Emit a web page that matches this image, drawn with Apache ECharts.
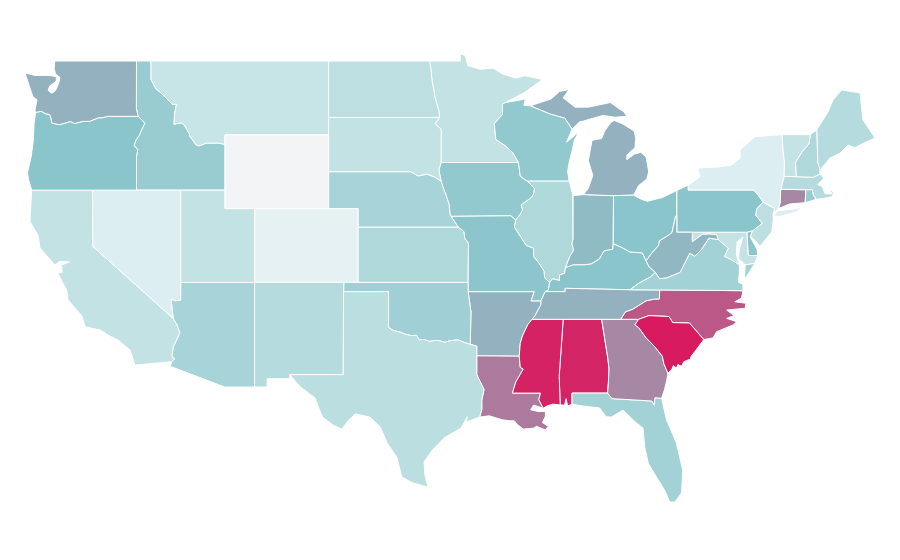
<!DOCTYPE html>
<html>
<head>
<meta charset="utf-8">
<title>US states</title>
<script src="https://cdn.jsdelivr.net/npm/echarts@6/dist/echarts.min.js"></script>
<style>
    html, body {margin: 0; padding: 0; background: #fff;}
    #usMap {width: 900px; height: 560px;}
</style>
</head>
<body>
<div id="usMap"></div>
<script>
// values
const stateNames = ['Alabama','Arizona','Arkansas','California','Colorado','Connecticut','Delaware','Florida','Georgia','Idaho','Illinois','Indiana','Iowa','Kansas','Kentucky','Louisiana','Maine','Maryland','Massachusetts','Michigan','Minnesota','Mississippi','Missouri','Montana','Nebraska','Nevada','New Hampshire','New Jersey','New Mexico','New York','North Carolina','North Dakota','Ohio','Oklahoma','Oregon','Pennsylvania','Rhode Island','South Carolina','South Dakota','Tennessee','Texas','Utah','Vermont','Virginia','Washington','West Virginia','Wisconsin','Wyoming'];
const stateValues = [98.5,63,78,52,14,84,74,65,84,69,60,76.5,72,60,75,86,57,51,57,78,51.5,99,74,50,63,25,60,54,57,25,91,54,75,66,75,75,70,100,52,78,55,52,51,65,78,77,72,0];

const colorStops = ['#f3f4f6', '#dceef1', '#c7e4e6', '#8ac5cb', '#d81b60'];

// state borders, lon/lat, each one shared by the two states on either side
const arcs = {
    n_wa: [[-122.55,49],[-117.03,49]],
    wa_id: [[-117.03,49],[-117.04,46.42],[-116.92,46]],
    wa_or: [[-116.92,46],[-118.98,46],[-119.3,45.93],[-119.6,45.92],[-120.2,45.73],[-120.65,45.73],[-121.2,45.61],[-121.5,45.72],[-122,45.6],[-122.25,45.55],[-122.6,45.61],[-122.76,45.65],[-122.8,45.9],[-122.9,46.1],[-123.2,46.15],[-123.45,46.27],[-123.7,46.24],[-123.85,46.2]],
    wa_coast: [[-123.85,46.2],[-123.89,46.34],[-123.75,46.9],[-124.02,47.05],[-124.23,47.54],[-124.56,48.35],[-124.3,48.3],[-123.9,48.22],[-123.2,48.22],[-122.75,48.2],[-122.45,48.15],[-122.45,47.9],[-122.9,47.65],[-123,47.4],[-122.75,47.25],[-122.5,47.4],[-122.28,47.8],[-122.2,48.1],[-122.5,48.3],[-122.6,48.6],[-122.55,49]],
    or_coast: [[-123.85,46.2],[-123.95,45.6],[-124,44.7],[-124.15,43.8],[-124.4,42.93],[-124.3,42.5],[-124.11,42]],
    or_ca: [[-124.11,42],[-120,42]],
    or_nv: [[-120,42],[-117.03,42]],
    or_id: [[-117.03,42],[-117.03,43.8],[-116.95,44.2],[-117.2,44.42],[-117.05,44.75],[-116.85,44.95],[-116.7,45.25],[-116.47,45.62],[-116.65,45.78],[-116.92,46]],
    n_id: [[-117.03,49],[-116.05,49]],
    id_mt: [[-116.05,49],[-116.05,48],[-115.72,47.5],[-115.35,47.25],[-114.95,46.93],[-114.6,46.65],[-114.33,46.65],[-114.45,46.15],[-114.5,45.57],[-114,45.65],[-113.8,45.52],[-113.45,45.05],[-113.45,44.95],[-113,44.45],[-112.8,44.4],[-112.3,44.55],[-111.5,44.55],[-111.05,44.48]],
    id_wy: [[-111.05,44.48],[-111.05,42]],
    id_ut: [[-111.05,42],[-114.04,42]],
    id_nv: [[-114.04,42],[-117.03,42]],
    n_mt: [[-116.05,49],[-104.05,49]],
    mt_wy: [[-111.05,44.48],[-111.05,45],[-104.05,45]],
    mt_sd: [[-104.05,45],[-104.05,45.94]],
    mt_nd: [[-104.05,45.94],[-104.05,49]],
    ca_coast: [[-124.11,42],[-124.23,40.3],[-123.69,39.57],[-123.55,38.86],[-122.54,37.94],[-122.2,38.15],[-121.55,38.1],[-122.1,37.95],[-122.05,37.55],[-122.34,37.5],[-122,36.95],[-121.75,36.6],[-121.66,36.05],[-120.73,35.2],[-120.5,34.6],[-119.5,34.42],[-118.8,34.08],[-118.28,33.88],[-117.47,33.34],[-117.13,32.52]],
    ca_mex: [[-117.13,32.52],[-114.65,32.7]],
    ca_az: [[-114.65,32.7],[-114.45,32.85],[-114.65,33],[-114.55,33.5],[-114.1,34.26],[-114.3,34.7],[-114.55,35.05]],
    ca_nv: [[-114.55,35.05],[-119.97,38.95],[-120,42]],
    nv_az: [[-114.55,35.05],[-114.7,36.1],[-114.4,36],[-114.05,36.05],[-114.04,37]],
    nv_ut: [[-114.04,37],[-114.04,42]],
    ut_wy: [[-111.05,42],[-111.05,41],[-109.05,41]],
    ut_co: [[-109.05,41],[-109.05,37]],
    ut_az: [[-114.04,37],[-109.05,37]],
    wy_co: [[-109.05,41],[-104.05,41]],
    wy_ne: [[-104.05,41],[-104.05,43]],
    wy_sd: [[-104.05,43],[-104.05,45]],
    az_mex: [[-114.65,32.7],[-114.75,32.45],[-111.07,31.33],[-109.05,31.33]],
    az_nm: [[-109.05,37],[-109.05,31.33]],
    nm_mex: [[-109.05,31.33],[-108.2,31.33],[-108.2,31.78],[-106.67,31.78],[-106.67,32]],
    nm_tx: [[-106.67,32],[-103.06,32],[-103.04,36.5]],
    nm_ok: [[-103.04,36.5],[-103,37]],
    nm_co: [[-103,37],[-109.05,37]],
    co_ne: [[-104.05,41],[-102.05,41],[-102.05,40]],
    co_ks: [[-102.05,40],[-102.05,37]],
    co_ok: [[-102.05,37],[-103,37]],
    ne_sd: [[-104.05,43],[-98.5,43],[-98,42.77],[-97.4,42.87],[-96.9,42.72],[-96.45,42.49]],
    ne_ks: [[-102.05,40],[-95.3,40]],
    ne_ia: [[-96.45,42.49],[-96.25,42],[-96.1,41.7],[-95.9,41.2],[-95.85,40.7],[-95.77,40.58]],
    ne_mo: [[-95.77,40.58],[-95.3,40]],
    ks_ok: [[-102.05,37],[-94.62,37]],
    ks_mo: [[-95.3,40],[-95.05,39.85],[-94.9,39.75],[-94.85,39.4],[-94.6,39.12],[-94.62,37]],
    ok_tx: [[-103.04,36.5],[-100,36.5],[-100,34.56],[-99.7,34.4],[-99.2,34.3],[-98.9,34.2],[-98.5,34.12],[-98.1,34.13],[-97.95,33.9],[-97.6,33.9],[-97.2,33.8],[-96.9,33.85],[-96.6,33.85],[-96.2,33.75],[-95.8,33.85],[-95.3,33.88],[-94.9,33.75],[-94.48,33.64]],
    ok_ar: [[-94.48,33.64],[-94.43,35.39],[-94.62,36.5]],
    ok_mo: [[-94.62,36.5],[-94.62,37]],
    tx_ar: [[-94.48,33.64],[-94.04,33.55],[-94.04,33.02]],
    tx_la: [[-94.04,33.02],[-94.04,32],[-93.8,31.6],[-93.55,31.2],[-93.7,30.6],[-93.7,30.1],[-93.85,29.7]],
    tx_coast: [[-93.85,29.7],[-94.75,29.43],[-94.68,29.72],[-95.1,29.1],[-96.2,28.6],[-97.05,27.9],[-97.6,27.27],[-97.55,26.6],[-97.33,25.9]],
    tx_mex: [[-97.33,25.9],[-98.35,26.13],[-99.1,26.45],[-99.45,27.54],[-100.1,28.3],[-100.55,29.16],[-101.25,29.7],[-102.25,29.87],[-102.7,29.54],[-103.15,29.05],[-103.75,29.27],[-104.45,29.7],[-104.75,30.25],[-104.95,30.73],[-105.95,31.33],[-106.67,32]],
    nd_sd: [[-104.05,45.94],[-96.56,45.94]],
    nd_mn: [[-96.56,45.94],[-96.6,46.3],[-96.85,47],[-97.05,47.9],[-97.15,48.6],[-97.23,49]],
    n_nd: [[-104.05,49],[-97.23,49]],
    sd_mn: [[-96.56,45.94],[-96.85,45.6],[-96.45,45.3],[-96.45,43.5]],
    sd_ia: [[-96.45,43.5],[-96.6,43.1],[-96.45,42.49]],
    mn_ia: [[-96.45,43.5],[-91.22,43.5]],
    mn_wi: [[-92.1,46.75],[-92.3,46.66],[-92.3,46.1],[-92.85,45.6],[-92.75,44.75],[-92.1,44.4],[-91.6,44.03],[-91.22,43.5]],
    mn_north: [[-97.23,49],[-95.15,49],[-95.15,49.38],[-94.8,49.3],[-94.65,48.75],[-93.8,48.55],[-92.95,48.62],[-92.3,48.3],[-91.4,48.07],[-90.8,48.2],[-89.6,48],[-90.8,47.3],[-91.5,47],[-92.1,46.75]],
    wi_ia: [[-91.22,43.5],[-91.1,42.75],[-90.64,42.5]],
    wi_il: [[-90.64,42.5],[-87.8,42.5]],
    wi_mi: [[-90.42,46.57],[-89.1,46.13],[-88.1,45.9],[-87.8,45.55],[-87.6,45.3]],
    wi_lake_n: [[-92.1,46.75],[-91.2,46.87],[-90.75,46.95],[-90.85,46.6],[-90.42,46.57]],
    wi_lake_e: [[-87.6,45.3],[-87.97,44.6],[-87.15,45.15],[-87.45,44.7],[-87.55,44.3],[-87.8,43.5],[-87.9,43],[-87.8,42.5]],
    ia_il: [[-90.64,42.5],[-90.15,42.1],[-90.2,41.8],[-90.35,41.6],[-91.05,41.2],[-90.95,40.95],[-91.1,40.7],[-91.42,40.38]],
    ia_mo: [[-95.77,40.58],[-91.73,40.61],[-91.42,40.38]],
    mo_il: [[-91.42,40.38],[-91.5,40],[-91.1,39.5],[-90.7,39],[-90.2,38.85],[-90.2,38.4],[-89.8,38],[-89.5,37.6],[-89.45,37.25],[-89.13,37]],
    mo_ky: [[-89.13,37],[-89.2,36.6],[-89.42,36.5]],
    mo_tn: [[-89.42,36.5],[-89.7,36]],
    mo_ar: [[-94.62,36.5],[-90.15,36.5],[-90.37,36],[-89.7,36]],
    ar_tn: [[-89.7,36],[-89.7,35.8],[-90.1,35.2],[-90.3,35]],
    ar_ms: [[-90.3,35],[-90.6,34.7],[-90.95,34.1],[-91.1,33.7],[-91.17,33]],
    ar_la: [[-94.04,33.02],[-91.17,33]],
    la_ms: [[-91.17,33],[-91.1,32.4],[-90.9,32.3],[-91.4,31.6],[-91.63,31],[-89.73,31],[-89.85,30.65],[-89.55,30.18]],
    la_coast: [[-89.55,30.18],[-90.2,30.35],[-90.4,30.1],[-89.9,30],[-89.4,30],[-89.4,29.75],[-89.6,29.4],[-89.2,29.2],[-89.4,29],[-90,29.2],[-90.2,29.1],[-90.9,29.05],[-91.3,29.3],[-91.5,29.5],[-91.8,29.5],[-92.3,29.55],[-93.2,29.77],[-93.85,29.7]],
    ms_coast: [[-89.55,30.18],[-89.3,30.3],[-88.9,30.4],[-88.4,30.36]],
    ms_al: [[-88.4,30.36],[-88.47,31.9],[-88.2,35]],
    ms_tn: [[-90.3,35],[-88.2,35]],
    al_tn: [[-88.2,35],[-85.6,35]],
    al_coast: [[-88.4,30.36],[-88.1,30.35],[-88,30.7],[-87.9,30.3],[-87.6,30.4]],
    al_fl: [[-87.6,30.4],[-87.6,31],[-85.2,31]],
    al_ga: [[-85.6,35],[-85.18,32.87],[-85.1,32.3],[-85.15,31.5],[-85.2,31]],
    ga_fl: [[-85.2,31],[-84.9,30.7],[-82.2,30.57],[-82.05,30.35],[-82,30.75],[-81.55,30.72]],
    fl_coast: [[-87.6,30.4],[-86.9,30.3],[-85.75,30.2],[-85.3,29.72],[-84.95,29.7],[-84.15,30.08],[-83.35,29.45],[-82.8,29.1],[-82.7,28.1],[-82.45,27.2],[-81.9,26.45],[-81.35,25.75],[-81,25.1],[-80.65,25.1],[-80.2,25.6],[-80.12,26.8],[-80.55,28.3],[-81.22,29.55],[-81.55,30.72]],
    ga_coast: [[-81.55,30.72],[-81.35,31.2],[-81.2,31.7],[-81.12,32.07]],
    ga_sc: [[-81.12,32.07],[-81.4,32.6],[-81.5,33],[-82,33.5],[-82.6,34],[-83.1,34.55],[-83.35,34.7],[-83.1,35]],
    ga_nc: [[-83.1,35],[-84.32,35]],
    ga_tn: [[-84.32,35],[-85.6,35]],
    sc_nc: [[-83.1,35],[-82.4,35.2],[-81.05,35.15],[-80.8,34.82],[-79.67,34.8],[-78.7,33.9]],
    sc_coast: [[-81.12,32.07],[-80.85,32.3],[-80.75,32.5],[-80.55,32.35],[-80.45,32.55],[-80.2,32.45],[-80.05,32.7],[-79.6,32.85],[-79.55,33],[-79.3,33.25],[-78.7,33.9]],
    nc_coast: [[-78.7,33.9],[-78.08,33.99],[-77.83,34.33],[-76.7,34.7],[-76.47,34.87],[-77.15,35.05],[-76.65,35.2],[-77.15,35.5],[-75.9,35.6],[-75.85,35.87],[-76.6,35.95],[-76.15,36.15],[-76.05,36.55]],
    nc_va: [[-76.05,36.55],[-81.68,36.59]],
    nc_tn: [[-81.68,36.59],[-81.7,36.1],[-82,36.1],[-82.6,36],[-83.1,35.75],[-83.5,35.55],[-84,35.4],[-84.32,35]],
    tn_va: [[-81.68,36.59],[-83.68,36.6]],
    ky_tn: [[-89.42,36.5],[-88.07,36.5],[-88.07,36.68],[-83.68,36.6]],
    ky_va: [[-83.68,36.6],[-83.1,36.95],[-82.3,37.3],[-81.97,37.54]],
    ky_wv: [[-81.97,37.54],[-82.4,37.85],[-82.6,38.17]],
    ky_oh: [[-82.6,38.17],[-82.85,38.6],[-83.7,38.65],[-84.25,38.9],[-84.82,39.1]],
    ky_in: [[-84.82,39.1],[-84.85,38.8],[-85.45,38.7],[-85.75,38.27],[-86.3,38],[-86.8,37.95],[-87.5,37.95],[-88.05,37.8]],
    ky_il: [[-88.05,37.8],[-88.1,37.5],[-88.45,37.4],[-88.45,37.1],[-88.9,37.2],[-89.13,37]],
    il_in: [[-87.53,41.7],[-87.53,39.35],[-87.6,39.1],[-87.5,38.75],[-87.75,38.4],[-88.05,37.8]],
    il_lake: [[-87.8,42.5],[-87.55,41.75],[-87.53,41.7]],
    in_oh: [[-84.82,39.1],[-84.8,41.7]],
    in_lake: [[-87.53,41.7],[-86.82,41.76]],
    in_mi: [[-86.82,41.76],[-84.8,41.7]],
    oh_mi: [[-84.8,41.7],[-83.45,41.73]],
    oh_lake: [[-83.45,41.73],[-82.9,41.5],[-82.5,41.4],[-81.5,41.6],[-80.52,41.98]],
    oh_pa: [[-80.52,41.98],[-80.52,40.64]],
    oh_wv: [[-82.6,38.17],[-82.2,38.6],[-81.75,39],[-81.7,39.25],[-81,39.6],[-80.85,39.7],[-80.6,40.6],[-80.52,40.64]],
    wv_pa: [[-80.52,40.64],[-80.52,39.72],[-79.48,39.72]],
    wv_md: [[-79.48,39.72],[-79.48,39.2],[-78.8,39.6],[-78.4,39.62],[-77.85,39.6],[-77.72,39.32]],
    wv_va: [[-77.72,39.32],[-78.35,39.4],[-78.87,38.77],[-79.3,38.42],[-79.65,38.58],[-80.3,37.55],[-81.2,37.25],[-81.68,37.2],[-81.97,37.54]],
    pa_md: [[-79.48,39.72],[-75.79,39.72]],
    pa_de: [[-75.79,39.72],[-75.4,39.8]],
    pa_nj: [[-75.4,39.8],[-74.75,40.2],[-75.2,40.65],[-75.13,40.98],[-74.7,41.36]],
    pa_e: [[-80.52,41.98],[-79.76,42.27]],
    pa_n: [[-79.76,42.27],[-79.76,42]],
    pa_ny: [[-79.76,42],[-75.35,42],[-75.05,41.75],[-74.7,41.36]],
    ny_lake: [[-79.76,42.27],[-78.96,42.71],[-79.1,43.2],[-77.74,43.25],[-76.81,43.36],[-76.25,43.74],[-76.25,44.18],[-75.24,44.9],[-73.4,45.01]],
    ny_vt: [[-73.4,45.01],[-73.35,44.2],[-73.25,43.55],[-73.27,42.75]],
    ny_ma: [[-73.27,42.75],[-73.5,42.05]],
    ny_ct: [[-73.5,42.05],[-73.55,41.3],[-73.65,41]],
    ny_sound: [[-73.65,41],[-73.9,40.8],[-74.02,40.7]],
    ny_nj: [[-74.7,41.36],[-73.9,41],[-74.02,40.7]],
    nj_coast: [[-74.02,40.7],[-74,40.45],[-74.1,39.75],[-74.9,38.95],[-75.2,39.25],[-75.55,39.5],[-75.4,39.8]],
    de_coast: [[-75.4,39.8],[-75.55,39.45],[-75.1,38.8],[-75.05,38.45],[-75.7,38.46]],
    md_de: [[-75.79,39.72],[-75.7,38.46]],
    md_ocean: [[-75.7,38.46],[-75.05,38.45],[-75.25,38.03]],
    md_va_e: [[-75.25,38.03],[-75.9,37.95]],
    md_bay: [[-75.9,37.95],[-76.35,38.3],[-76.3,38.8],[-76.05,39.45],[-76.45,39.2],[-76.5,38.5],[-76.3,37.95]],
    md_va_w: [[-76.3,37.95],[-76.95,38.28],[-77.3,38.4],[-77.05,38.85],[-77.72,39.32]],
    va_coast: [[-76.05,36.55],[-76.05,36.9],[-76.35,37],[-76.3,37.5],[-76.3,37.95]],
    ct_ma: [[-73.5,42.05],[-71.8,42.02]],
    ct_ri: [[-71.8,42.02],[-71.85,41.32]],
    ct_coast: [[-71.85,41.32],[-72.9,41.25],[-73.65,41]],
    ma_ri: [[-71.8,42.02],[-71.38,42.02],[-71.3,41.75],[-71.12,41.5]],
    ri_coast: [[-71.85,41.32],[-71.12,41.5]],
    ma_coast: [[-71.12,41.5],[-70.65,41.55],[-70,41.65],[-69.95,41.9],[-70.2,42.07],[-70.05,41.8],[-70.5,41.8],[-70.7,42.2],[-71,42.3],[-70.6,42.65],[-70.85,42.87]],
    ma_nh: [[-70.85,42.87],[-71.3,42.7],[-72.46,42.73]],
    ma_vt: [[-72.46,42.73],[-73.27,42.75]],
    vt_nh: [[-72.46,42.73],[-72.5,43.5],[-72.05,44.1],[-71.6,44.5],[-71.5,45.01]],
    vt_n: [[-73.4,45.01],[-71.5,45.01]],
    nh_n: [[-71.5,45.01],[-71.07,45.26]],
    nh_me: [[-71.07,45.26],[-71,43.5],[-70.85,43.09]],
    nh_coast: [[-70.85,43.09],[-70.85,42.87]],
    me_outer: [[-71.07,45.26],[-70.3,46.25],[-69.97,46.89],[-69.38,47.43],[-68.14,47.27],[-67.94,45.8],[-67.13,44.83],[-68.14,44.45],[-68.5,44.3],[-68.95,44.45],[-69.5,44],[-70.17,43.74],[-70.85,43.09]],
    mi_coast: [[-83.45,41.73],[-83.1,42.25],[-82.55,42.6],[-82.42,43],[-82.6,43.8],[-82.95,44.05],[-83.4,43.95],[-83.9,43.65],[-83.9,43.9],[-83.35,44.3],[-83.3,44.8],[-83.4,45.2],[-84.2,45.6],[-84.75,45.78],[-85,45.65],[-85.4,45.2],[-85.6,44.8],[-86.25,44.7],[-86.5,43.6],[-86.2,42.8],[-86.5,42.1],[-86.82,41.76]],
    up_coast: [[-90.42,46.57],[-89,46.95],[-88.45,47.35],[-87.8,47.45],[-88.2,47],[-87.4,46.5],[-86.5,46.5],[-85,46.75],[-84.5,46.45],[-84.1,46.25],[-83.9,46],[-84.7,45.95],[-85.5,46.05],[-86.4,45.85],[-86.8,45.75],[-87.1,45.7],[-87.6,45.3]]
};

// state -> border pieces in walking order, '-' walks a piece backwards
const stateRings = {
    'Washington': [['n_wa','wa_id','wa_or','wa_coast']],
    'Oregon': [['or_coast','or_ca','or_nv','or_id','wa_or']],
    'Idaho': [['n_id','id_mt','id_wy','id_ut','id_nv','or_id','-wa_id']],
    'Montana': [['n_mt','-mt_nd','-mt_sd','-mt_wy','-id_mt']],
    'Wyoming': [['mt_wy','-wy_sd','-wy_ne','-wy_co','-ut_wy','-id_wy']],
    'California': [['ca_coast','ca_mex','ca_az','ca_nv','-or_ca']],
    'Nevada': [['or_nv','-id_nv','-nv_ut','-nv_az','ca_nv']],
    'Utah': [['id_ut','-nv_ut','ut_az','-ut_co','-ut_wy']],
    'Arizona': [['nv_az','ut_az','az_nm','-az_mex','ca_az']],
    'Colorado': [['wy_co','co_ne','co_ks','co_ok','nm_co','-ut_co']],
    'New Mexico': [['az_nm','nm_mex','nm_tx','nm_ok','nm_co']],
    'Texas': [['ok_tx','tx_ar','tx_la','tx_coast','tx_mex','nm_tx']],
    'Oklahoma': [['nm_ok','-co_ok','ks_ok','-ok_mo','-ok_ar','-ok_tx']],
    'Kansas': [['ne_ks','ks_mo','-ks_ok','-co_ks']],
    'Nebraska': [['ne_sd','ne_ia','ne_mo','-ne_ks','-co_ne','wy_ne']],
    'South Dakota': [['wy_sd','mt_sd','nd_sd','sd_mn','sd_ia','-ne_sd']],
    'North Dakota': [['mt_nd','n_nd','-nd_mn','-nd_sd']],
    'Minnesota': [['mn_north','mn_wi','-mn_ia','-sd_mn','nd_mn']],
    'Iowa': [['mn_ia','wi_ia','ia_il','-ia_mo','-ne_ia','-sd_ia']],
    'Missouri': [['ia_mo','mo_il','mo_ky','mo_tn','-mo_ar','ok_mo','-ks_mo','-ne_mo']],
    'Arkansas': [['mo_ar','ar_tn','ar_ms','-ar_la','-tx_ar','ok_ar']],
    'Louisiana': [['ar_la','la_ms','la_coast','-tx_la']],
    'Wisconsin': [['wi_lake_n','wi_mi','wi_lake_e','-wi_il','-wi_ia','-mn_wi']],
    'Illinois': [['wi_il','il_lake','il_in','ky_il','-mo_il','-ia_il']],
    'Indiana': [['in_lake','in_mi','-in_oh','ky_in','-il_in']],
    'Ohio': [['oh_mi','oh_lake','oh_pa','-oh_wv','ky_oh','in_oh']],
    'Kentucky': [['-ky_il','-ky_in','-ky_oh','-ky_wv','-ky_va','-ky_tn','-mo_ky']],
    'Tennessee': [['ky_tn','-tn_va','nc_tn','ga_tn','-al_tn','-ms_tn','-ar_tn','-mo_tn']],
    'Mississippi': [['ms_tn','-ms_al','-ms_coast','-la_ms','-ar_ms']],
    'Alabama': [['al_tn','al_ga','-al_fl','-al_coast','ms_al']],
    'Georgia': [['-ga_tn','-ga_nc','-ga_sc','-ga_coast','-ga_fl','-al_ga']],
    'Florida': [['al_fl','ga_fl','-fl_coast']],
    'South Carolina': [['ga_sc','sc_nc','-sc_coast']],
    'North Carolina': [['-sc_nc','ga_nc','-nc_tn','-nc_va','-nc_coast']],
    'Virginia': [['va_coast','md_va_w','wv_va','-ky_va','-tn_va','-nc_va']],
    'West Virginia': [['oh_wv','wv_pa','wv_md','wv_va','ky_wv']],
    'Pennsylvania': [['pa_e','pa_n','pa_ny','-pa_nj','-pa_de','-pa_md','-wv_pa','-oh_pa']],
    'New York': [['ny_lake','ny_vt','ny_ma','ny_ct','ny_sound','-ny_nj','-pa_ny','-pa_n']],
    'New Jersey': [['pa_nj','ny_nj','nj_coast']],
    'Delaware': [['pa_de','de_coast','-md_de']],
    'Maryland': [['pa_md','md_de','md_ocean','md_va_e','md_bay','md_va_w','-wv_md']],
    'Connecticut': [['ct_ma','ct_ri','ct_coast','-ny_ct']],
    'Rhode Island': [['ma_ri','-ri_coast','-ct_ri']],
    'Massachusetts': [['-ma_vt','-ma_nh','-ma_coast','-ma_ri','-ct_ma','-ny_ma']],
    'Vermont': [['vt_n','-vt_nh','ma_vt','-ny_vt']],
    'New Hampshire': [['vt_nh','nh_n','nh_me','nh_coast','ma_nh']],
    'Maine': [['me_outer','-nh_me']],
    'Michigan': [['oh_mi','mi_coast','in_mi'],['up_coast','-wi_mi']]
};

// bits that touch no other state
const extraPolygons = {
    'New York': [[[-74,40.6],[-73.7,40.88],[-72.6,40.98],[-72,41.1],[-72.5,40.8],[-73.5,40.58],[-74,40.6]]],
    'Virginia': [[[-75.9,37.95],[-75.25,38.03],[-75.95,37.15],[-75.9,37.95]]],
    'Michigan': [[[-89.2,47.85],[-88.5,48.15],[-88.8,48],[-89.2,47.85]]]
};

function buildRing(pieces) {
    let ring = [];
    pieces.forEach(function (piece) {
        let points = piece[0] === '-' ? arcs[piece.slice(1)].slice().reverse() : arcs[piece];
        ring = ring.concat(ring.length ? points.slice(1) : points);
    });
    return ring;
}

const usGeoJson = {
    type: 'FeatureCollection',
    features: stateNames.map(function (name) {
        let polygons = stateRings[name].map(function (pieces) {
            return [buildRing(pieces)];
        });
        (extraPolygons[name] || []).forEach(function (ring) {
            polygons.push([ring]);
        });
        return {
            type: 'Feature',
            properties: {name: name},
            geometry: {type: 'MultiPolygon', coordinates: polygons}
        };
    })
};

echarts.registerMap('USA', usGeoJson);

var usMapChart = echarts.init(document.getElementById('usMap'));

usMapChartOption = {
    animation: false,
    visualMap: {
        show: false,
        min: 0,
        max: 100,
        seriesIndex: 0,
        inRange: {color: colorStops}
    },
    series: [
        {
            type: 'map',
            map: 'USA',
            roam: false,
            boundingCoords: [[-126, 50], [-66, 24]],
            aspectScale: 0.802,
            left: 3.74,
            top: 42.55,
            width: 888,
            height: 479.7,
            label: {show: false},
            itemStyle: {
                borderColor: '#fff',
                borderWidth: 1
            },
            emphasis: {disabled: true},
            select: {disabled: true},
            data: stateNames.map(function (name, i) {
                return {name: name, value: stateValues[i]};
            })
        }
    ]
};

usMapChart.setOption(usMapChartOption);
</script>
</body>
</html>
